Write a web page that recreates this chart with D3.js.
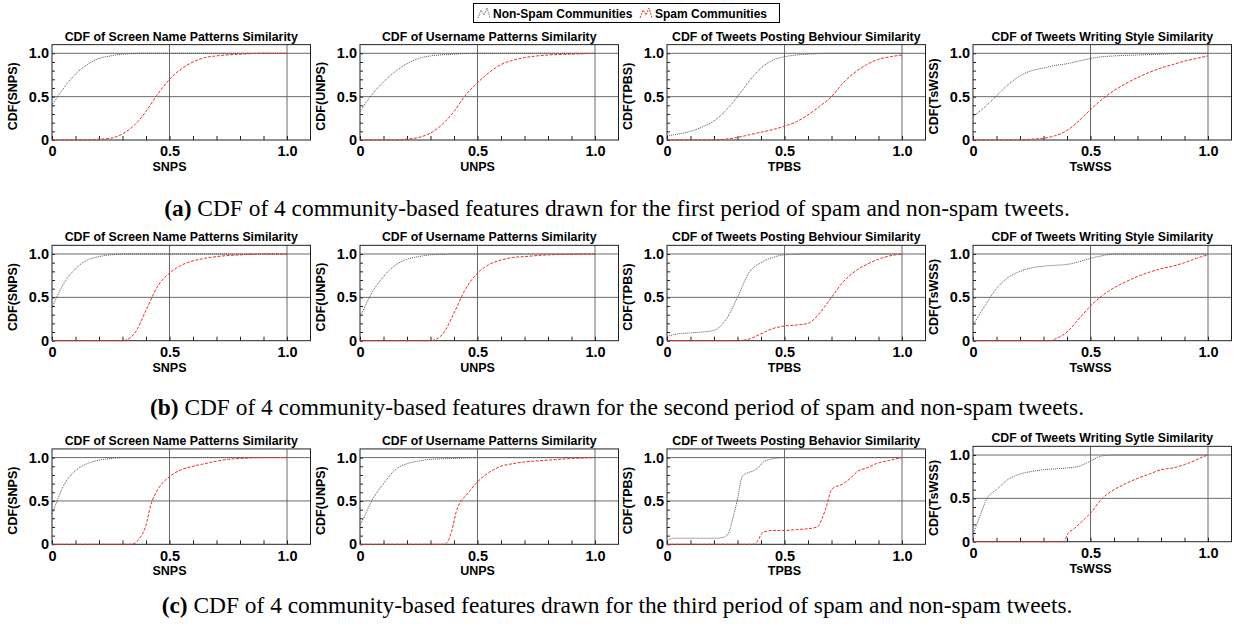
<!DOCTYPE html>
<html>
<head>
<meta charset="utf-8">
<script src="https://cdn.jsdelivr.net/npm/d3@7"></script>
<style>
  html, body { margin: 0; padding: 0; background: #fff; }
  svg { display: block; }
</style>
</head>
<body>
<svg id="chart" width="1235" height="630"></svg>
<script>
// ---- Panel text ----
const featureKeys = ["SNPS", "UNPS", "TPBS", "TsWSS"];
const titlesP1 = ["CDF of Screen Name Patterns Similarity", "CDF of Username Patterns Similarity",
                  "CDF of Tweets Posting Behviour Similarity", "CDF of Tweets Writing Style Similarity"];
const titlesP2 = titlesP1;
const titlesP3 = ["CDF of Screen Name Patterns Similarity", "CDF of Username Patterns Similarity",
                  "CDF of Tweets Posting Behavior Similarity", "CDF of Tweets Writing Sytle Similarity"];
const captionTags = ["(a)", "(b)", "(c)"];
const captionTexts = [
  " CDF of 4 community-based features drawn for the first period of spam and non-spam tweets.",
  " CDF of 4 community-based features drawn for the second period of spam and non-spam tweets.",
  " CDF of 4 community-based features drawn for the third period of spam and non-spam tweets."
];
const seriesNames = ["Non-Spam Communities", "Spam Communities"];
const xTickValues = [0, 0.5, 1.0];
const yTickValues = [0, 0.5, 1.0];
const minorTickValues = [0, 0.1, 0.2, 0.3, 0.4, 0.5, 0.6, 0.7, 0.8, 0.9, 1.0];

// ---- CDF curves, [similarity, cumulative fraction] ----
// First period
const snpsNonSpam1 = [[0,0.4],[0.05,0.6],[0.1,0.76],[0.15,0.87],[0.2,0.94],[0.25,0.97],[0.3,0.99],[0.4,1],[1,1]];
const snpsSpam1 = [[0,0],[0.15,0],[0.2,0.01],[0.25,0.02],[0.3,0.07],[0.35,0.17],[0.4,0.33],[0.45,0.53],[0.5,0.7],[0.55,0.82],[0.6,0.9],[0.65,0.95],[0.7,0.97],[0.8,0.99],[0.9,1],[1,1]];
const unpsNonSpam1 = [[0,0.33],[0.05,0.52],[0.1,0.67],[0.15,0.79],[0.2,0.88],[0.25,0.94],[0.3,0.97],[0.4,0.99],[0.5,1],[1,1]];
const unpsSpam1 = [[0,0],[0.15,0],[0.2,0.01],[0.25,0.03],[0.3,0.08],[0.35,0.18],[0.4,0.33],[0.45,0.52],[0.5,0.66],[0.55,0.78],[0.6,0.87],[0.65,0.92],[0.7,0.95],[0.8,0.98],[0.9,0.99],[1,1]];
const tpbsNonSpam1 = [[0,0.05],[0.05,0.07],[0.1,0.1],[0.15,0.15],[0.2,0.22],[0.25,0.34],[0.3,0.5],[0.35,0.68],[0.4,0.83],[0.45,0.92],[0.5,0.96],[0.55,0.98],[0.6,0.99],[0.7,1],[1,1]];
const tpbsSpam1 = [[0,0],[0.2,0],[0.25,0.01],[0.3,0.03],[0.35,0.06],[0.4,0.09],[0.45,0.12],[0.5,0.16],[0.55,0.21],[0.6,0.29],[0.65,0.39],[0.7,0.5],[0.75,0.66],[0.8,0.78],[0.85,0.87],[0.9,0.93],[0.95,0.96],[1,0.98]];
const tswssNonSpam1 = [[0,0.27],[0.05,0.38],[0.1,0.51],[0.15,0.64],[0.2,0.74],[0.25,0.8],[0.3,0.83],[0.35,0.86],[0.4,0.88],[0.45,0.91],[0.5,0.94],[0.55,0.96],[0.6,0.97],[0.7,0.98],[0.8,0.99],[0.9,1],[1,1]];
const tswssSpam1 = [[0,0],[0.2,0],[0.25,0.01],[0.3,0.02],[0.35,0.05],[0.4,0.11],[0.45,0.22],[0.5,0.35],[0.55,0.47],[0.6,0.57],[0.65,0.65],[0.7,0.72],[0.75,0.78],[0.8,0.83],[0.85,0.87],[0.9,0.91],[0.95,0.94],[1,0.97]];

// Second period
const snpsNonSpam2 = [[0,0.38],[0.05,0.66],[0.1,0.83],[0.15,0.93],[0.2,0.97],[0.25,0.99],[0.3,1],[1,1]];
const snpsSpam2 = [[0,0],[0.3,0],[0.35,0.08],[0.4,0.35],[0.45,0.63],[0.5,0.78],[0.55,0.87],[0.6,0.92],[0.65,0.95],[0.7,0.97],[0.8,0.99],[0.9,1],[1,1]];
const unpsNonSpam2 = [[0,0.27],[0.05,0.55],[0.1,0.74],[0.15,0.87],[0.2,0.94],[0.25,0.97],[0.3,0.99],[0.4,1],[1,1]];
const unpsSpam2 = [[0,0],[0.3,0],[0.35,0.07],[0.4,0.32],[0.45,0.6],[0.5,0.78],[0.55,0.88],[0.6,0.93],[0.65,0.96],[0.7,0.97],[0.8,0.99],[1,1]];
const tpbsNonSpam2 = [[0,0.05],[0.05,0.08],[0.1,0.09],[0.15,0.1],[0.2,0.12],[0.25,0.24],[0.3,0.5],[0.35,0.79],[0.4,0.9],[0.45,0.96],[0.5,0.99],[0.6,1],[1,1]];
const tpbsSpam2 = [[0,0],[0.3,0],[0.35,0.02],[0.4,0.08],[0.45,0.14],[0.5,0.17],[0.55,0.18],[0.6,0.2],[0.65,0.32],[0.7,0.5],[0.75,0.68],[0.8,0.8],[0.85,0.88],[0.9,0.94],[0.95,0.98],[1,1]];
const tswssNonSpam2 = [[0,0.18],[0.05,0.4],[0.1,0.6],[0.15,0.73],[0.2,0.8],[0.25,0.84],[0.3,0.86],[0.35,0.87],[0.4,0.88],[0.45,0.91],[0.5,0.95],[0.55,0.98],[0.6,1],[1,1]];
const tswssSpam2 = [[0,0],[0.33,0],[0.35,0.02],[0.4,0.1],[0.45,0.25],[0.5,0.4],[0.55,0.52],[0.6,0.61],[0.65,0.68],[0.7,0.74],[0.75,0.79],[0.8,0.83],[0.85,0.86],[0.9,0.9],[0.95,0.95],[1,0.99]];

// Third period
const snpsNonSpam3 = [[0,0.35],[0.02,0.49],[0.05,0.68],[0.1,0.85],[0.15,0.93],[0.2,0.97],[0.25,0.99],[0.3,1],[1,1]];
const snpsSpam3 = [[0,0],[0.33,0],[0.35,0.01],[0.37,0.06],[0.4,0.22],[0.42,0.45],[0.45,0.63],[0.5,0.78],[0.55,0.86],[0.6,0.9],[0.65,0.93],[0.7,0.96],[0.75,0.98],[0.8,0.99],[0.9,1],[1,1]];
const unpsNonSpam3 = [[0,0.22],[0.02,0.33],[0.05,0.5],[0.1,0.7],[0.15,0.86],[0.2,0.93],[0.25,0.96],[0.3,0.98],[0.4,0.99],[0.5,1],[1,1]];
const unpsSpam3 = [[0,0],[0.36,0],[0.37,0.02],[0.39,0.15],[0.41,0.38],[0.43,0.5],[0.45,0.56],[0.5,0.72],[0.55,0.83],[0.6,0.9],[0.65,0.93],[0.7,0.95],[0.8,0.97],[0.9,0.99],[1,1]];
const tpbsNonSpam3 = [[0,0.04],[0.03,0.07],[0.1,0.07],[0.2,0.07],[0.24,0.08],[0.26,0.12],[0.28,0.3],[0.3,0.52],[0.32,0.78],[0.34,0.82],[0.37,0.85],[0.39,0.89],[0.41,0.95],[0.44,0.98],[0.5,1],[1,1]];
const tpbsSpam3 = [[0,0],[0.37,0],[0.38,0.02],[0.41,0.14],[0.45,0.16],[0.5,0.16],[0.55,0.17],[0.6,0.18],[0.64,0.2],[0.66,0.3],[0.68,0.45],[0.7,0.63],[0.75,0.7],[0.78,0.76],[0.81,0.84],[0.85,0.88],[0.89,0.93],[0.95,0.97],[1,1]];
const tswssNonSpam3 = [[0,0.08],[0.03,0.3],[0.06,0.5],[0.1,0.6],[0.15,0.72],[0.2,0.78],[0.25,0.81],[0.3,0.83],[0.35,0.84],[0.4,0.85],[0.45,0.87],[0.5,0.93],[0.55,0.99],[0.6,1],[1,1]];
const tswssSpam3 = [[0,0],[0.39,0],[0.4,0.08],[0.43,0.15],[0.47,0.25],[0.5,0.33],[0.55,0.5],[0.6,0.6],[0.65,0.67],[0.7,0.73],[0.75,0.78],[0.8,0.83],[0.85,0.85],[0.9,0.89],[0.93,0.92],[0.97,0.97],[1,1]];

const nonSpamRows = [
  [snpsNonSpam1, unpsNonSpam1, tpbsNonSpam1, tswssNonSpam1],
  [snpsNonSpam2, unpsNonSpam2, tpbsNonSpam2, tswssNonSpam2],
  [snpsNonSpam3, unpsNonSpam3, tpbsNonSpam3, tswssNonSpam3]
];
const spamRows = [
  [snpsSpam1, unpsSpam1, tpbsSpam1, tswssSpam1],
  [snpsSpam2, unpsSpam2, tpbsSpam2, tswssSpam2],
  [snpsSpam3, unpsSpam3, tpbsSpam3, tswssSpam3]
];
const titleRows = [titlesP1, titlesP2, titlesP3];

// ---- Layout ----
const colLeft = [52, 360, 667, 973];     // pixel of x = 0
const unitW = 235;                         // pixels for x in [0,1]
const rowBase = [140, 340.7, 544.3];       // pixel of y = 0
const unitH = 86.7;                        // pixels for y in [0,1]
const nonSpamColor = "#555";
const spamColor = "#e8302a";
const gridColor = "#6a6a6a";

const svg = d3.select("#chart");
const sansBold = "'Liberation Sans', Arial, Helvetica, sans-serif";

function drawPanel(r, c) {
  // the last panel of the third row sits a little higher
  const base = (r === 2 && c === 3) ? 541.7 : rowBase[r];
  const x = d3.scaleLinear().domain([0, 1.1]).range([colLeft[c], colLeft[c] + unitW * 1.1]);
  const y = d3.scaleLinear().domain([0, 1.1]).range([base, base - unitH * 1.1]);
  const g = svg.append("g");
  const [x0, x1] = x.range();
  const [yb, yt] = y.range();

  // grid lines at 0.5 and 1.0
  g.selectAll(".gx").data([0.5, 1.0]).join("line")
    .attr("x1", d => x(d)).attr("x2", d => x(d))
    .attr("y1", yt).attr("y2", yb)
    .attr("stroke", gridColor).attr("stroke-width", 1);
  g.selectAll(".gy").data([0.5, 1.0]).join("line")
    .attr("x1", x0).attr("x2", x1)
    .attr("y1", d => y(d)).attr("y2", d => y(d))
    .attr("stroke", gridColor).attr("stroke-width", 1);

  // inward minor ticks
  g.append("g").attr("transform", `translate(0,${yb})`)
    .call(d3.axisBottom(x).tickValues(minorTickValues).tickSize(-4).tickFormat(""))
    .call(a => { a.select(".domain").remove(); a.selectAll("line").attr("stroke", "#222"); });
  g.append("g").attr("transform", `translate(${x0},0)`)
    .call(d3.axisLeft(y).tickValues(minorTickValues).tickSize(-3).tickFormat(""))
    .call(a => { a.select(".domain").remove(); a.selectAll("line").attr("stroke", "#222"); });

  // frame
  g.append("rect").attr("x", x0).attr("y", yt).attr("width", x1 - x0).attr("height", yb - yt)
    .attr("fill", "none").attr("stroke", "#222").attr("stroke-width", 1);

  // tick labels
  const fmt = d => d === 0 ? "0" : d3.format(".1f")(d);
  g.append("g").attr("transform", `translate(0,${yb})`)
    .call(d3.axisBottom(x).tickValues(xTickValues).tickSize(0).tickPadding(6).tickFormat(fmt))
    .call(a => {
      a.select(".domain").remove();
      a.selectAll("text").attr("font-family", sansBold).attr("font-weight", "bold")
        .attr("font-size", 14.5).attr("fill", "#000");
    });
  g.append("g").attr("transform", `translate(${x0},0)`)
    .call(d3.axisLeft(y).tickValues(yTickValues).tickSize(0).tickPadding(3).tickFormat(fmt))
    .call(a => {
      a.select(".domain").remove();
      a.selectAll("text").attr("font-family", sansBold).attr("font-weight", "bold")
        .attr("font-size", 14.5).attr("fill", "#000");
    });

  // axis titles
  g.append("text").attr("x", x(0.5)).attr("y", yb + 31)
    .attr("text-anchor", "middle").attr("font-family", sansBold).attr("font-weight", "bold")
    .attr("font-size", 12.5).text(featureKeys[c]);
  g.append("text")
    .attr("transform", `translate(${x0 - 35},${(yb + yt) / 2 + 4}) rotate(-90)`)
    .attr("text-anchor", "middle").attr("font-family", sansBold).attr("font-weight", "bold")
    .attr("font-size", 12.5).text(`CDF(${featureKeys[c]})`);

  // panel title
  g.append("text").attr("x", (x0 + x1) / 2).attr("y", yt - 4)
    .attr("text-anchor", "middle").attr("font-family", sansBold).attr("font-weight", "bold")
    .attr("font-size", 12.3).text(titleRows[r][c]);

  // curves
  const line = d3.line().x(d => x(d[0])).y(d => y(d[1])).curve(d3.curveMonotoneX);
  g.append("path").datum(nonSpamRows[r][c]).attr("d", line)
    .attr("fill", "none").attr("stroke", nonSpamColor).attr("stroke-width", 1)
    .attr("stroke-dasharray", "1,1");
  g.append("path").datum(spamRows[r][c]).attr("d", line)
    .attr("fill", "none").attr("stroke", spamColor).attr("stroke-width", 1)
    .attr("stroke-dasharray", "3,1.5");
}

for (let r = 0; r < 3; r++) for (let c = 0; c < 4; c++) drawPanel(r, c);

// ---- captions ----
const captionY = [215.5, 415, 613];
captionTags.forEach((tag, i) => {
  const t = svg.append("text").attr("x", 617).attr("y", captionY[i]).attr("text-anchor", "middle")
    .attr("font-family", "'Liberation Serif', 'Times New Roman', serif").attr("font-size", 23.4);
  t.append("tspan").attr("font-weight", "bold").text(tag);
  t.append("tspan").text(captionTexts[i]);
});

// ---- legend ----
const legend = svg.append("g");
legend.append("rect").attr("x", 473.5).attr("y", 3.5).attr("width", 306).attr("height", 19)
  .attr("fill", "#fff").attr("stroke", "#000").attr("stroke-width", 1);
const legendX = [478, 640];
const legendColors = [nonSpamColor, spamColor];
const legendDash = ["1,1", "2,1"];
seriesNames.forEach((name, i) => {
  const lx = legendX[i];
  const icon = d3.line()([[lx, 18], [lx + 3, 10], [lx + 6, 15], [lx + 9, 8], [lx + 12, 18]]);
  legend.append("path").attr("d", icon).attr("fill", "none")
    .attr("stroke", legendColors[i]).attr("stroke-width", 1).attr("stroke-dasharray", legendDash[i]);
  legend.append("text").attr("x", lx + 15).attr("y", 17.5)
    .attr("font-family", sansBold).attr("font-weight", "bold").attr("font-size", 12).text(name);
});
</script>
</body>
</html>
